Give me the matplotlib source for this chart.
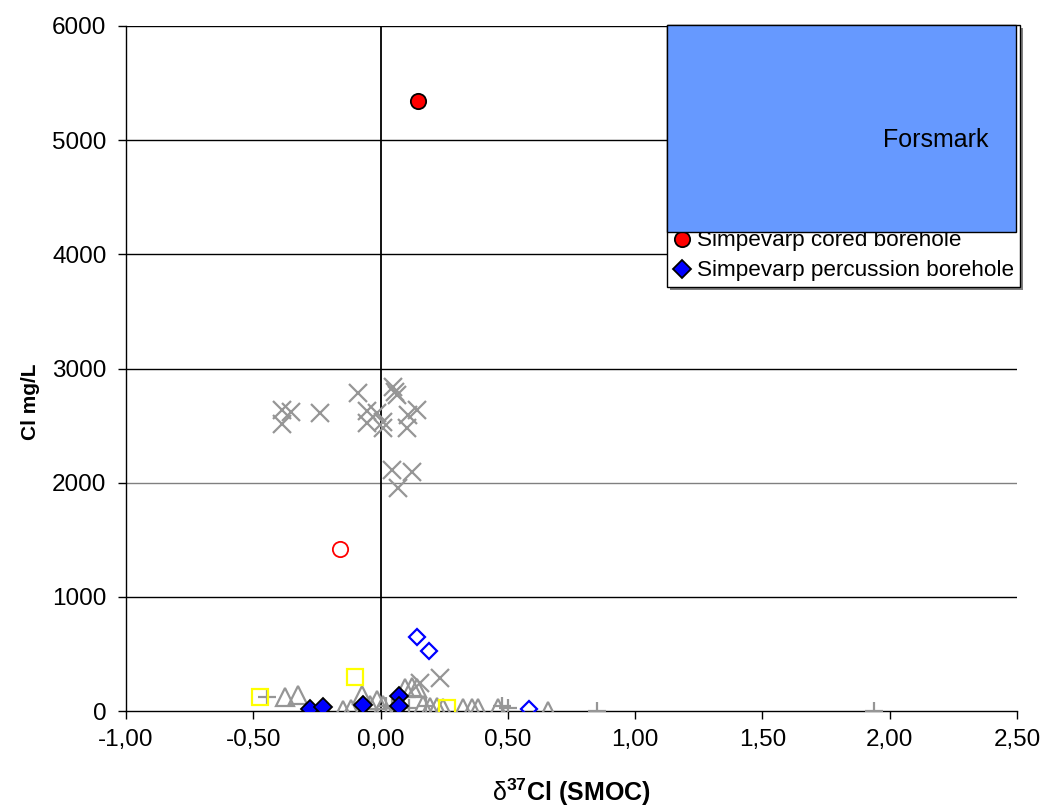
import matplotlib
matplotlib.use("Agg")
import matplotlib.pyplot as plt
from matplotlib.patches import Rectangle
from matplotlib.ticker import FixedLocator, FuncFormatter

plt.rcParams['font.family'] = ['Liberation Sans', 'DejaVu Sans']
plt.rcParams['mathtext.fontset'] = 'custom'
plt.rcParams['mathtext.rm'] = 'Liberation Sans'
plt.rcParams['mathtext.bf'] = 'Liberation Sans:bold'

# ---- data: delta37Cl (per mil SMOC) vs Cl (mg/L) ----
cored_x = [0.147]
cored_y = [5340]

cored_open_x = [-0.159]
cored_open_y = [1418]

perc_x = [-0.277, -0.225, -0.068, 0.073, 0.073]
perc_y = [18, 32, 53, 134, 46]

perc_open_x = [0.143, 0.190, 0.583]
perc_open_y = [648, 525, 18]

cross_x = [-0.387, -0.387, -0.352, -0.238, -0.089, -0.053, -0.053, -0.014,
           0.009, 0.009, 0.049, 0.057, 0.064, 0.108, 0.143, 0.104,
           0.045, 0.123, 0.068, 0.155, 0.233]
cross_y = [2636, 2513, 2618, 2610, 2785, 2627, 2522, 2610,
           2531, 2478, 2837, 2793, 2767, 2592, 2636, 2478,
           2110, 2093, 1953, 243, 286]

tri_x = [-0.375, -0.323, -0.147, -0.115, -0.074, -0.040, -0.015, 0.010,
         0.096, 0.122, 0.142, 0.168, 0.194, 0.220, 0.246, 0.325, 0.358,
         0.384, 0.462, 0.659]
tri_y = [125, 140, 10, 15, 140, 50, 100, 50,
         200, 213, 200, 50, 35, 35, 24, 24, 24,
         24, 24, 0]

plus_x = [-0.446, 0.020, 0.045, 0.110, 0.180, 0.476, 0.500, 0.849, 1.939]
plus_y = [123, 40, 30, 30, 40, 40, 30, 0, 0]

square_x = [-0.473, -0.100, 0.262]
square_y = [125, 300, 24]

x_ticks = [-1.0, -0.5, 0.0, 0.5, 1.0, 1.5, 2.0, 2.5]
y_ticks = [0, 1000, 2000, 3000, 4000, 5000, 6000]

GRAY = '#969696'

fig = plt.figure(figsize=(10.43, 8.07), dpi=100)
ax = fig.add_axes([126 / 1043, 96 / 807, 891 / 1043, 685 / 807])
ax.set_xlim(-1.0, 2.5)
ax.set_ylim(0, 6000)

# horizontal gridlines and the zero line
for yv in y_ticks[1:]:
    ax.axhline(yv, color='#808080' if yv == 2000 else 'black', lw=1.0, zorder=1)
ax.axvline(0.0, color='black', lw=1.3, zorder=1)

ax.plot(tri_x, tri_y, ls='none', marker='^', ms=13, mfc='none', mec=GRAY, mew=1.6, zorder=3)
ax.plot(plus_x, plus_y, ls='none', marker='+', ms=13, mec=GRAY, mew=1.6, zorder=3)
ax.plot(cross_x, cross_y, ls='none', marker='x', ms=13, mec=GRAY, mew=1.6, zorder=3)
ax.plot(square_x, square_y, ls='none', marker='s', ms=11.5, mfc='none', mec='#FFFF00', mew=1.6, zorder=4)
ax.plot(cored_open_x, cored_open_y, ls='none', marker='o', ms=11, mfc='none', mec='#FF0000', mew=1.3, zorder=4)
ax.plot(perc_open_x, perc_open_y, ls='none', marker='D', ms=8.5, mfc='none', mec='#0000FF', mew=1.6, zorder=4)
h_perc, = ax.plot(perc_x, perc_y, ls='none', marker='D', ms=9, mfc='#0000FF', mec='black', mew=1.3,
                  zorder=5, label='Simpevarp percussion borehole')
h_cored, = ax.plot(cored_x, cored_y, ls='none', marker='o', ms=11, mfc='#FF0000', mec='black', mew=1.3,
                   zorder=5, label='Simpevarp cored borehole')

for s in ['top', 'right']:
    ax.spines[s].set_visible(False)
for s in ['left', 'bottom']:
    ax.spines[s].set_color('black')
    ax.spines[s].set_linewidth(1.0)

ax.xaxis.set_major_locator(FixedLocator(x_ticks))
ax.yaxis.set_major_locator(FixedLocator(y_ticks))
ax.xaxis.set_major_formatter(FuncFormatter(lambda v, p: f"{v:.2f}".replace('.', ',')))
ax.yaxis.set_major_formatter(FuncFormatter(lambda v, p: f"{int(v)}"))
ax.tick_params(axis='both', direction='out', length=6, width=1.0, labelsize=17.5, colors='black')
ax.tick_params(axis='x', pad=7)
ax.tick_params(axis='y', pad=8)

ax.set_ylabel('Cl mg/L', fontsize=15, fontweight='bold')
ax.yaxis.set_label_coords(-86 / 891, 0.451)
ax.set_xlabel(r'$\mathrm{\delta}^{\mathbf{37}}$Cl (SMOC)', fontsize=18, fontweight='bold')
ax.xaxis.set_label_coords(0.5, -66 / 685)

# legend frame with drop shadow
lx0, ly0, lw, lh = 667 / 1043, (807 - 287) / 807, 353 / 1043, 262 / 807
fig.patches.append(Rectangle((lx0 + 3 / 1043, ly0 - 3 / 807), lw, lh, transform=fig.transFigure,
                             facecolor='#808080', edgecolor='none', zorder=10))
fig.patches.append(Rectangle((lx0, ly0), lw, lh, transform=fig.transFigure,
                             facecolor='white', edgecolor='black', lw=1.0, zorder=11))

leg = fig.legend(handles=[h_cored, h_perc], loc='lower left',
                 bbox_to_anchor=(667 / 1043, (807 - 287) / 807), frameon=False,
                 fontsize=16.2, handlelength=0.8, handletextpad=0.3, labelspacing=0.4,
                 borderpad=0.25, borderaxespad=0.0)
leg.set_zorder(12)

# Forsmark overlay box
fig.patches.append(Rectangle((667 / 1043, (807 - 232) / 807), 349 / 1043, 207 / 807,
                             transform=fig.transFigure, facecolor='#6699FF',
                             edgecolor='black', lw=1.0, zorder=13))
fig.text(936 / 1043, (807 - 140) / 807, 'Forsmark', fontsize=18, ha='center', va='center', zorder=14)

fig.savefig('out.png', dpi=100)
